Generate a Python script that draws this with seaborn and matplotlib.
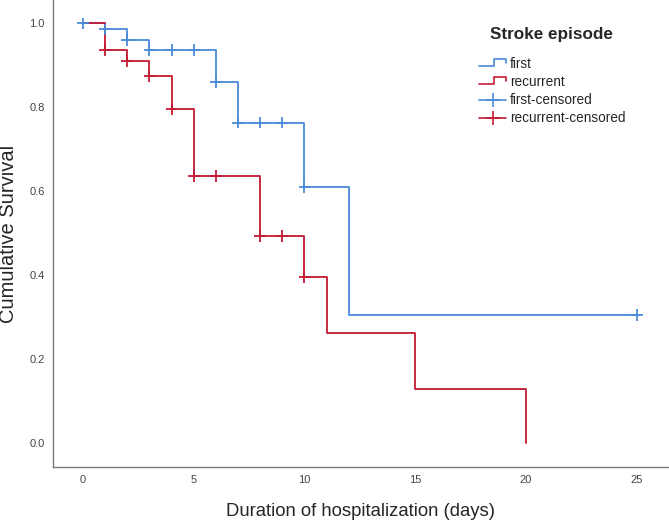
import numpy as np
import pandas as pd
import seaborn as sns
import matplotlib.pyplot as plt
from matplotlib.lines import Line2D
from matplotlib.legend_handler import HandlerBase

# Kaplan-Meier step data
first_time = [0, 1, 2, 3, 6, 7, 10, 12, 25]
first_surv = [1.0, 0.986, 0.961, 0.937, 0.860, 0.764, 0.610, 0.305, 0.305]
recurrent_time = [0, 1, 2, 3, 4, 5, 8, 10, 11, 15, 20]
recurrent_surv = [1.0, 0.937, 0.911, 0.875, 0.796, 0.636, 0.493, 0.396, 0.263, 0.130, 0.0]

# censored marks
first_cens_time = [0, 1, 2, 3, 4, 5, 6, 7, 8, 9, 10, 25]
first_cens_surv = [1.0, 0.986, 0.961, 0.937, 0.937, 0.937, 0.860, 0.764, 0.764, 0.764, 0.610, 0.305]
recurrent_cens_time = [1, 2, 3, 4, 5, 6, 8, 9, 10]
recurrent_cens_surv = [0.937, 0.911, 0.875, 0.796, 0.636, 0.636, 0.493, 0.493, 0.396]

x_ticks = [0, 5, 10, 15, 20, 25]
y_ticks = [0.0, 0.2, 0.4, 0.6, 0.8, 1.0]

BLUE = '#4a8ad8'
RED = '#c41a33'

#--------------------------------------------------------------------------------------------------

class StepHandler(HandlerBase):
    '''
    Draws the little step icon SPSS uses for survival lines in the legend.
    '''
    def create_artists(self, legend, orig_handle, xdescent, ydescent,
                       width, height, fontsize, trans):
        x0 = -xdescent
        xs = [x0, x0 + width * 0.55, x0 + width * 0.55, x0 + width, x0 + width]
        ys = [0.25 * height, 0.25 * height, 0.95 * height, 0.95 * height, 0.6 * height]
        ys = [y - ydescent for y in ys]
        line = Line2D(xs, ys, color=orig_handle.get_color(), lw=1.2, transform=trans)
        return [line]

#--------------------------------------------------------------------------------------------------

steps = pd.concat([
    pd.DataFrame({'time': first_time, 'surv': first_surv, 'episode': 'first'}),
    pd.DataFrame({'time': recurrent_time, 'surv': recurrent_surv, 'episode': 'recurrent'}),
], ignore_index=True)

cens = pd.concat([
    pd.DataFrame({'time': first_cens_time, 'surv': first_cens_surv, 'episode': 'first'}),
    pd.DataFrame({'time': recurrent_cens_time, 'surv': recurrent_cens_surv, 'episode': 'recurrent'}),
], ignore_index=True)

sns.set_style('white')
plt.rcParams['font.family'] = ['Liberation Sans', 'DejaVu Sans']

palette = {'first': BLUE, 'recurrent': RED}

W, H = 669, 521
fig = plt.figure(figsize=(W / 100, H / 100), dpi=100)
ax = fig.add_axes([53 / W, 1 - 467 / H, 1 - 53 / W, 467 / H])

sns.lineplot(data=steps, x='time', y='surv', hue='episode', palette=palette,
             estimator=None, sort=False, drawstyle='steps-post', linewidth=1.3,
             legend=False, ax=ax)
sns.scatterplot(data=cens, x='time', y='surv', hue='episode', palette=palette,
                marker='+', s=70, linewidth=1.3, legend=False, ax=ax, zorder=3)

ax.set_xlim(-1.35, 26.45)
ax.set_ylim(-0.057, 1.056)
ax.set_xticks(x_ticks)
ax.set_yticks(y_ticks)
ax.set_yticklabels([f'{v:.1f}' for v in y_ticks])
ax.tick_params(axis='both', length=0, labelsize=8, labelcolor='#444444', pad=6)

for side in ['top', 'right']:
    ax.spines[side].set_visible(False)
for side in ['left', 'bottom']:
    ax.spines[side].set_color('#777777')
    ax.spines[side].set_linewidth(1.0)

ax.set_xlabel('Duration of hospitalization (days)', fontsize=13.3, labelpad=13)
ax.set_ylabel('Cumulative Survival', fontsize=14.5, labelpad=8)

# legend: title drawn separately so the gap under it matches
fig.text(490 / W, 1 - 35 / H, 'Stroke episode', fontsize=12.3, fontweight='bold',
         ha='left', va='center')

handles = [
    Line2D([], [], color=BLUE),
    Line2D([], [], color=RED),
    Line2D([], [], color=BLUE, marker='+', linestyle='-', lw=1.2, markersize=10, mew=1.2),
    Line2D([], [], color=RED, marker='+', linestyle='-', lw=1.2, markersize=10, mew=1.2),
]
labels = ['first', 'recurrent', 'first-censored', 'recurrent-censored']
leg = fig.legend(handles, labels, loc='upper left',
                 bbox_to_anchor=(467 / W, 1 - 45 / H), frameon=False,
                 fontsize=9.8, handlelength=2.0, handletextpad=0.25, labelspacing=0.3,
                 handler_map={handles[0]: StepHandler(), handles[1]: StepHandler()})

fig.savefig('out.png', dpi=100)
